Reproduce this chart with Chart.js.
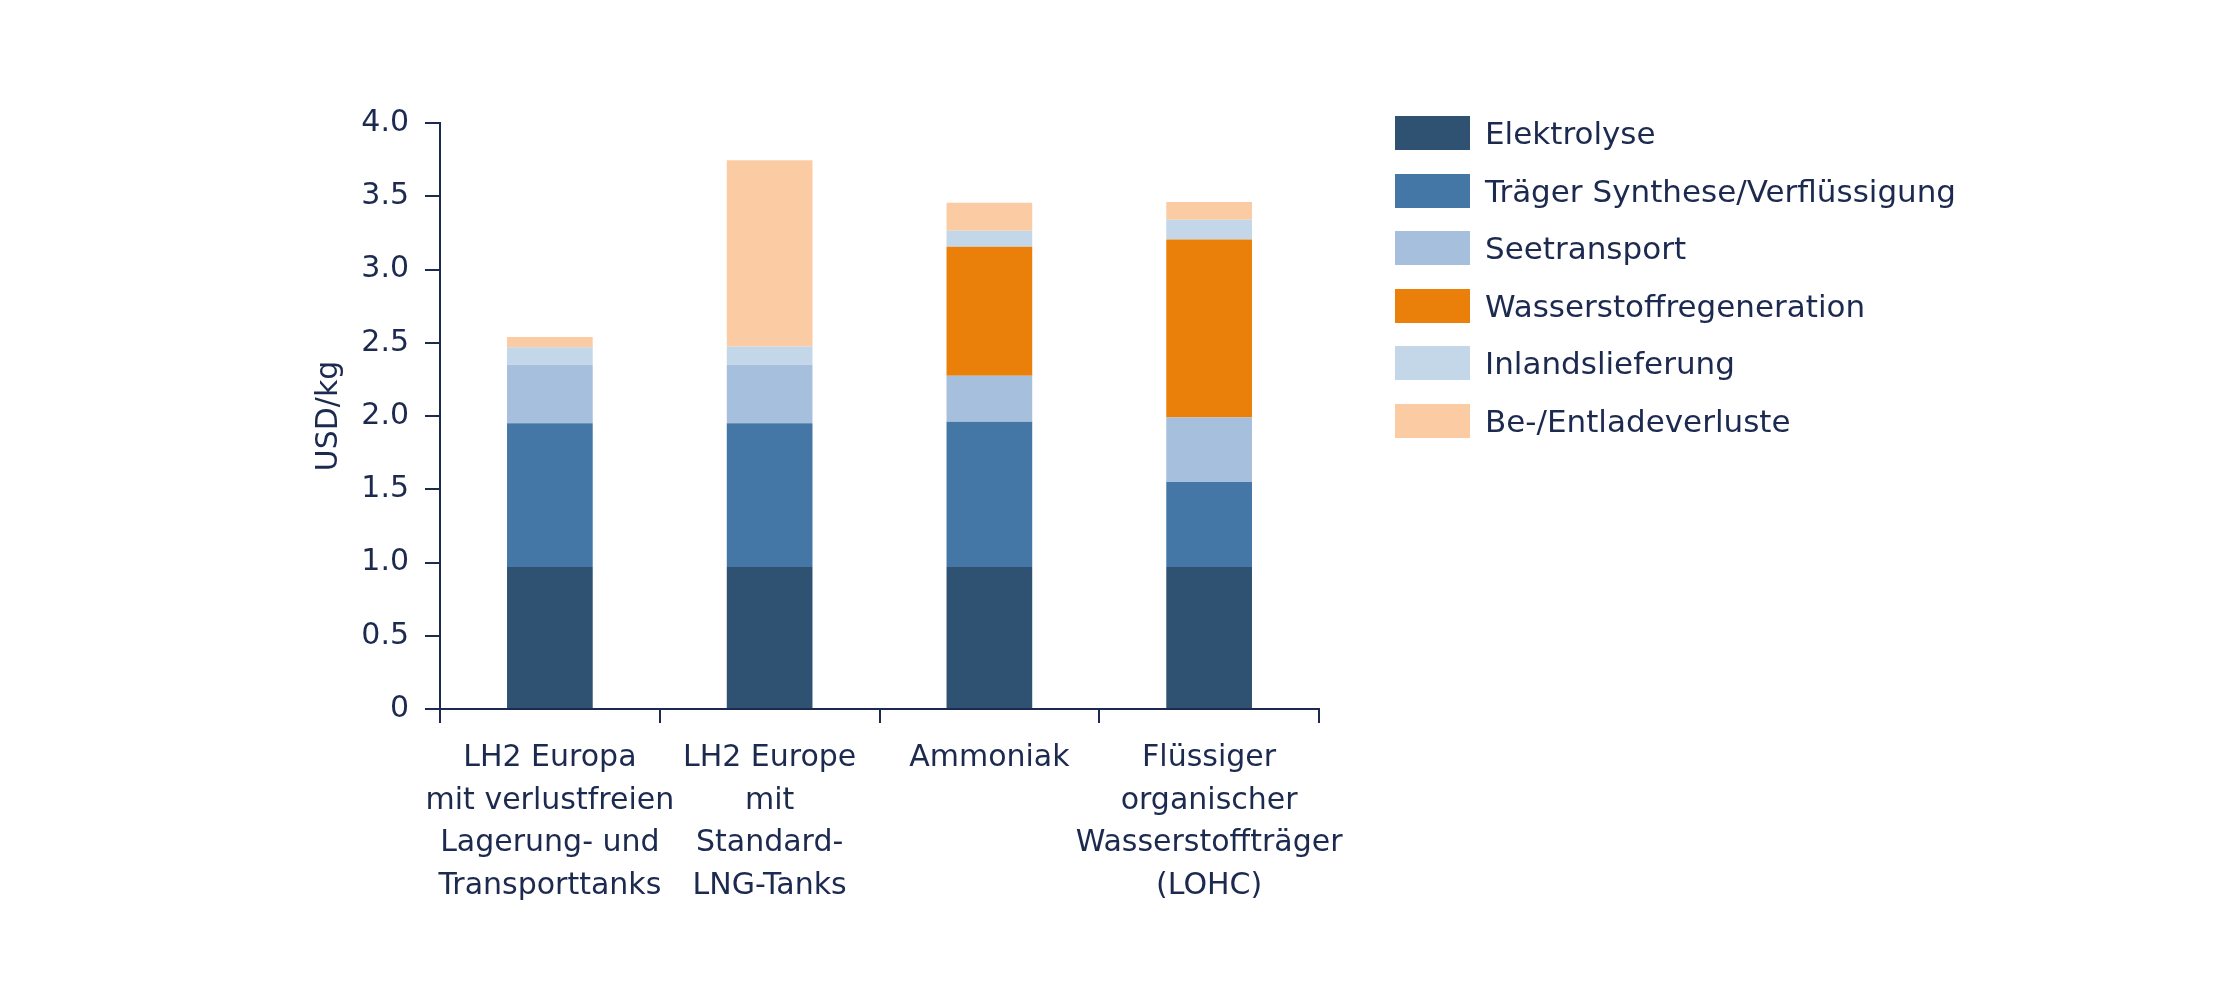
<!DOCTYPE html>
<html>
<head>
<meta charset="utf-8">
<script src="https://cdn.jsdelivr.net/npm/chart.js@4.4.1/dist/chart.umd.min.js"></script>
<style>
  body { margin: 0; background: #ffffff; }
  #wrap { position: relative; width: 2223px; height: 996px; }
  #legend { position: absolute; left: 1395px; top: 116px; font-family: "DejaVu Sans"; font-size: 31px; color: #1d2a50; }
  .legend-item { display: flex; align-items: center; height: 34px; margin-bottom: 23.6px; white-space: nowrap; }
  .legend-box { width: 75px; height: 34px; margin-right: 15px; }
</style>
</head>
<body>
<div id="wrap">
  <canvas id="myChart" width="2223" height="996"></canvas>
  <div id="legend"></div>
</div>
<script>
// categories (multi-line labels as in the original)
const categories = [
    ['LH2 Europa', 'mit verlustfreien', 'Lagerung- und', 'Transporttanks'],
    ['LH2 Europe', 'mit', 'Standard-', 'LNG-Tanks'],
    ['Ammoniak'],
    ['Flüssiger', 'organischer', 'Wasserstoffträger', '(LOHC)']
];

// USD/kg per cost component
const elektrolyse       = [0.97, 0.97, 0.97, 0.97];
const traegerSynthese   = [0.98, 0.98, 0.99, 0.58];
const seetransport      = [0.40, 0.40, 0.315, 0.44];
const regeneration      = [0, 0, 0.88, 1.215];
const inlandslieferung  = [0.12, 0.125, 0.11, 0.135];
const beEntladeverluste = [0.07, 1.27, 0.19, 0.12];

const yTickLabels = ['0', '0.5', '1.0', '1.5', '2.0', '2.5', '3.0', '3.5', '4.0'];

const navy = '#1d2a50';
const font = { family: 'DejaVu Sans', size: 30 };

const canvas = document.getElementById('myChart');

const myChart = new Chart(canvas, {
    type: 'bar',
    data: {
        labels: categories,
        datasets: [
            { label: 'Elektrolyse', data: elektrolyse, backgroundColor: '#2f5273' },
            { label: 'Träger Synthese/Verflüssigung', data: traegerSynthese, backgroundColor: '#4477a5' },
            { label: 'Seetransport', data: seetransport, backgroundColor: '#a6bfdd' },
            { label: 'Wasserstoffregeneration', data: regeneration, backgroundColor: '#ea8009' },
            { label: 'Inlandslieferung', data: inlandslieferung, backgroundColor: '#c4d7e9' },
            { label: 'Be-/Entladeverluste', data: beEntladeverluste, backgroundColor: '#fbcca3' }
        ]
    },
    options: {
        responsive: false,
        animation: false,
        devicePixelRatio: 1,
        datasets: {
            bar: { categoryPercentage: 1.0, barPercentage: 0.39 }
        },
        layout: {
            padding: { left: 290, right: 904, top: 123, bottom: 0 }
        },
        scales: {
            x: {
                stacked: true,
                grid: {
                    offset: true,
                    drawOnChartArea: false,
                    tickLength: 14,
                    color: navy,
                    lineWidth: 2
                },
                border: { display: true, color: navy, width: 2 },
                ticks: {
                    color: navy,
                    font: { family: 'DejaVu Sans', size: 30, lineHeight: 1.417 },
                    padding: 14,
                    maxRotation: 0,
                    autoSkip: false
                },
                afterFit: (scale) => { scale.height = 287; }
            },
            y: {
                stacked: true,
                min: 0,
                max: 4,
                grid: {
                    drawOnChartArea: false,
                    tickLength: 15,
                    color: navy,
                    lineWidth: 2
                },
                border: { display: true, color: navy, width: 2 },
                ticks: {
                    stepSize: 0.5,
                    color: navy,
                    font: font,
                    padding: 16,
                    callback: (value, index) => yTickLabels[index]
                },
                title: {
                    display: true,
                    text: 'USD/kg',
                    color: navy,
                    font: font,
                    padding: { top: 21, bottom: 0 }
                },
                afterFit: (scale) => { scale.width = 150; }
            }
        },
        plugins: {
            legend: { display: false },
            tooltip: { enabled: false }
        }
    }
});

// html legend built from the chart's datasets
const legendEl = document.getElementById('legend');
myChart.data.datasets.forEach((ds) => {
    const item = document.createElement('div');
    item.className = 'legend-item';
    const box = document.createElement('span');
    box.className = 'legend-box';
    box.style.background = ds.backgroundColor;
    const text = document.createElement('span');
    text.textContent = ds.label;
    item.appendChild(box);
    item.appendChild(text);
    legendEl.appendChild(item);
});
</script>
</body>
</html>
